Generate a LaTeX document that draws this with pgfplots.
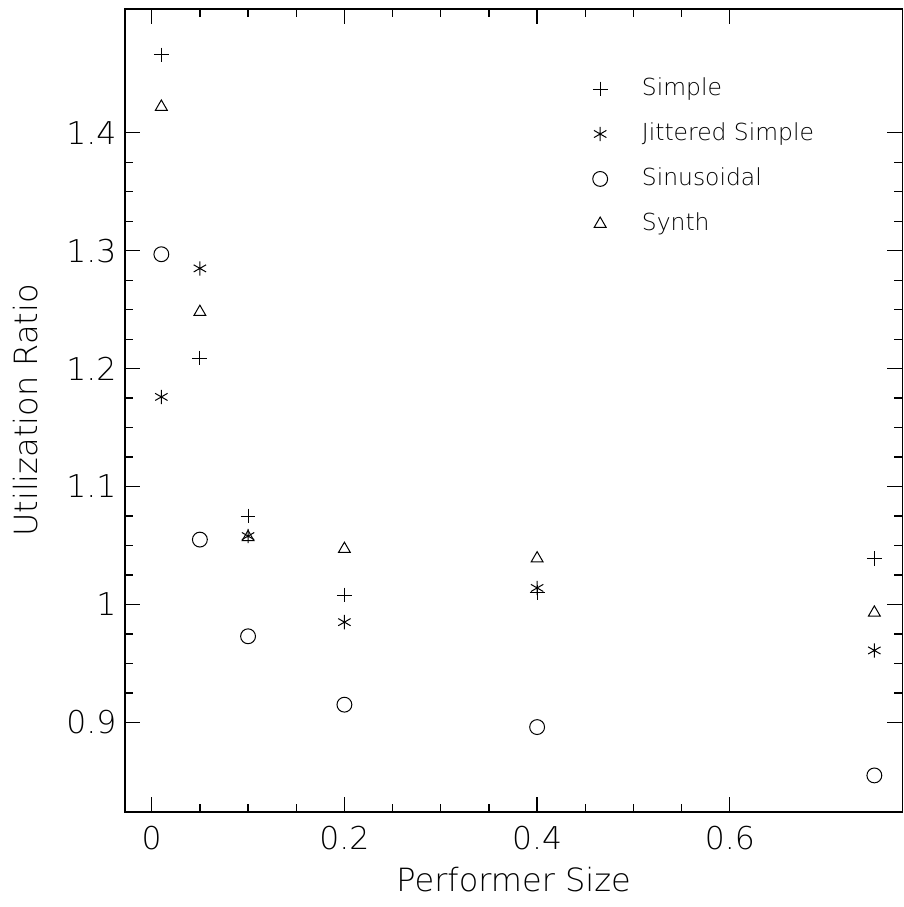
\documentclass[border=0pt]{standalone}
\usepackage{fontspec}
\setmainfont{DejaVu Sans ExtraLight}
\usepackage{pgfplots}
\pgfplotsset{compat=1.18}
\begin{document}
\begin{tikzpicture}
\begin{axis}[
  width=272pt, height=281pt, scale only axis,
  xmin=-0.0277, xmax=0.779,
  ymin=0.824, ymax=1.505,
  xtick={0,0.2,0.4,0.6}, minor x tick num=3,
  ytick={0.9,1,1.1,1.2,1.3,1.4}, minor y tick num=3,
  tick pos=both, xticklabel pos=lower, yticklabel pos=left,
  tick align=inside,
  major tick length=5.25pt, minor tick length=2.8pt,
  axis line style={line width=0.5pt},
  every tick/.style={black, line width=0.45pt},
  /pgf/number format/assume math mode=true,
  tick label style={font=\fontsize{11}{13}\selectfont},
  xticklabel style={yshift=-1.5pt},
  yticklabel style={xshift=0.5pt},
  label style={font=\fontsize{11.2}{13}\selectfont},
  xlabel={Performer Size},
  ylabel={Utilization Ratio},
  xlabel style={yshift=1pt},
  ylabel style={yshift=3pt},
  legend style={draw=none, fill=none, at={(0.59,0.929)}, anchor=north west,
    font=\fontsize{8.2}{9.5}\selectfont, row sep=4pt, column sep=10pt},
  legend cell align=left,
  every axis plot/.append style={only marks, black, mark options={line width=0.35pt}},
]
\addplot[mark=+, mark size=2.6pt] coordinates {
(0.01,1.466)(0.05,1.209)(0.1,1.075)(0.2,1.008)(0.4,1.010)(0.75,1.039)};
\addplot[mark=asterisk, mark size=2.5pt] coordinates {
(0.01,1.176)(0.05,1.285)(0.1,1.058)(0.2,0.985)(0.4,1.014)(0.75,0.961)};
\addplot[mark=o, mark size=2.6pt] coordinates {
(0.01,1.297)(0.05,1.055)(0.1,0.973)(0.2,0.915)(0.4,0.896)(0.75,0.855)};
\addplot[mark=triangle, mark size=2.4pt] coordinates {
(0.01,1.422)(0.05,1.248)(0.1,1.057)(0.2,1.047)(0.4,1.039)(0.75,0.993)};
\legend{Simple, Jittered Simple, Sinusoidal, Synth}
\end{axis}
\pgfresetboundingbox
\path (current axis.south west) ++(-43.75pt,-33.25pt) coordinate (bl);
\path (current axis.north east) ++(0.25pt,3.15pt) coordinate (tr);
\path[use as bounding box] (bl) rectangle (tr);
\end{tikzpicture}
\end{document}
